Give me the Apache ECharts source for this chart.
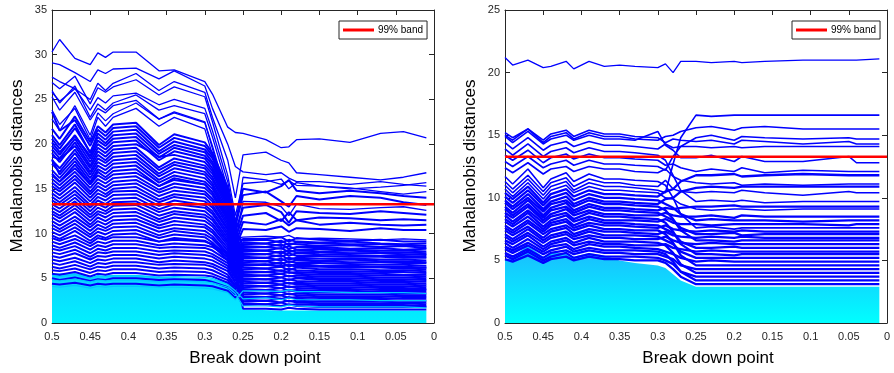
<!DOCTYPE html>
<html>
<head>
<meta charset="utf-8">
<script src="https://cdn.jsdelivr.net/npm/echarts@6/dist/echarts.min.js"></script>
<style>
html,body{margin:0;padding:0;background:#fff;}
#c{width:894px;height:373px;}
</style>
</head>
<body>
<div id="c"></div>
<script>
// ---------------- DATA ----------------
const xTicks = [0.5,0.45,0.4,0.35,0.3,0.25,0.2,0.15,0.1,0.05,0];
const band99 = 13.28;

// Left panel: break-down points at which the distances are listed
const xLeft = [0.50,0.49,0.47,0.45,0.44,0.43,0.42,0.39,0.36,0.34,0.30,0.29,0.27,0.26,
               0.25,0.22,0.20,0.19,0.18,0.15,0.11,0.07,0.04,0.01];

const leftOutliers = [
  [30.3,31.7,29.6,28.9,30.2,29.7,30.3,30.3,28.2,28.3,27.0,25.6,21.9,21.3, 21.2,20.5,19.6,19.7,20.5,20.6,20.2,21.2,21.4,20.7],
  [29.1,28.9,28.0,27.0,28.3,27.9,28.4,28.5,27.3,28.2,26.5,24.0,20.0,17.5, 16.9,16.6,16.8,16.2,15.8,15.8,15.5,15.8,15.5,15.3],
  [27.5,27.0,26.2,25.0,26.8,26.0,26.8,27.9,26.0,27.0,25.8,23.0,18.2,14.0, 18.8,19.1,18.2,17.9,16.8,16.6,16.3,16.0,16.3,16.8],
  [26.9,26.2,27.6,24.5,26.3,25.8,26.4,27.2,25.5,26.4,25.3,22.5,16.5,12.0, 15.6,15.8,16.1,15.0,15.7,15.3,15.1,14.7,14.4,14.7],
  [26.0,24.6,26.5,23.0,24.5,23.8,24.6,25.5,23.8,24.3,23.4,20.8,15.0,10.5, 16.3,16.0,15.5,15.9,15.4,15.3,15.0,15.2,15.4,15.7],
  [25.8,24.8,26.2,23.8,25.2,24.6,25.4,25.7,24.4,25.0,24.0,21.5,15.8,11.5, 6.5,6.6,6.4,6.6,6.4,6.4,6.3,6.3,6.2,6.2],
  [25.3,23.8,25.8,22.7,24.0,23.5,24.3,24.9,22.8,23.6,22.5,19.5,13.5,9.5, 9.6,9.7,9.6,9.8,9.4,9.5,9.4,9.3,9.4,9.3],
  [23.8,22.2,24.0,20.5,23.0,22.0,23.0,24.0,22.0,23.0,21.7,18.8,13.0,9.0, 13.6,13.5,13.0,12.0,13.3,12.8,12.7,12.9,13.0,12.6],
  [22.8,21.5,24.3,21.0,23.5,22.6,23.4,24.6,22.8,23.5,22.4,19.8,14.0,9.8, 8.0,8.1,7.9,8.2,7.9,7.9,7.8,7.8,7.7,7.7]
];

const leftUpperBand = [
  [21.7,20.6,23.1,20.2,22.0,21.3,22.2,22.4,19.9,21.1,20.2,19.0,15.2,11.2, 15.0,14.6,15.3,16.0,14.8,14.5,14.8,14.5,14.2,14.0],
  [23.6,21.5,22.7,19.8,21.6,20.9,21.8,22.0,19.6,20.7,19.8,18.7,15.0,11.0, 5.2,5.3,5.1,5.3,5.1,5.0,5.0,4.9,4.9,4.8],
  [21.0,19.9,22.2,19.0,21.2,20.5,21.4,21.6,19.2,20.3,19.4,18.4,14.7,10.8, 14.3,14.7,13.6,13.0,14.2,13.8,14.2,14.0,13.5,13.2],
  [20.6,19.5,21.8,19.1,20.8,20.1,21.0,21.2,18.9,19.9,19.1,18.0,14.4,10.6, 8.4,8.5,8.3,8.6,8.2,8.3,8.2,8.1,8.1,8.0],
  [20.2,19.1,20.9,18.7,20.4,19.8,20.6,20.8,18.5,19.6,18.7,17.7,14.1,10.4, 3.0,2.9,3.1,2.8,2.9,2.8,2.8,2.8,2.7,2.7],
  [19.8,18.8,21.0,18.4,20.0,19.4,20.2,20.4,18.2,19.2,18.4,17.3,13.9,10.2, 12.9,13.2,12.4,11.2,12.5,12.3,12.2,12.5,12.3,12.1],
  [19.4,18.4,20.6,18.0,19.6,19.0,19.8,20.0,18.6,18.8,18.0,17.0,13.6,10.0, 7.0,6.9,7.2,6.8,7.0,6.9,6.8,6.8,6.7,6.7],
  [19.0,18.0,20.2,17.6,19.2,18.6,19.4,19.6,17.4,18.4,17.6,16.7,13.3,9.8, 9.2,9.3,9.0,9.3,9.1,9.0,9.1,8.9,8.8,8.9],
  [18.6,18.3,19.8,17.3,18.8,18.2,19.0,19.2,17.1,18.0,17.3,16.3,13.1,9.6, 2.2,2.1,2.3,2.0,2.1,2.0,2.0,2.0,2.0,1.9],
  [18.2,17.3,19.4,16.9,18.4,17.9,18.6,18.8,16.7,17.7,16.9,16.0,12.8,9.4, 12.0,12.3,11.4,12.4,11.5,11.8,11.7,11.5,11.6,11.5],
  [17.8,16.9,19.0,16.6,18.0,17.5,18.2,18.4,16.4,17.3,16.6,15.6,12.5,9.2, 6.2,6.1,6.3,5.9,6.2,6.0,6.0,5.9,5.9,5.8],
  [18.3,16.6,18.5,16.2,17.6,17.1,17.8,18.0,16.0,16.9,16.2,15.3,12.2,9.0, 4.4,4.5,4.3,4.5,4.3,4.2,4.2,4.1,4.1,4.0],
  [17.1,16.2,18.1,15.8,17.2,16.7,17.4,17.6,15.7,16.5,15.8,15.0,12.0,8.8, 11.3,11.0,11.6,10.9,11.5,11.0,11.2,11.0,10.9,11.0],
  [16.7,15.8,17.7,15.5,16.9,16.3,17.0,17.2,15.3,16.2,15.5,14.6,11.7,8.6, 8.8,8.9,8.6,8.9,8.8,8.6,8.7,8.5,8.6,8.4]
];

const leftMiddleBand = [
  [16.5,15.8,17.3,15.5,16.5,16.0,16.6,16.8,15.3,16.0,15.5,14.6,11.8,8.7, 3.6,3.7,3.5,3.7,3.5,3.4,3.4,3.4,3.3,3.3],
  [16.1,15.4,16.9,15.1,16.1,15.6,16.2,16.4,14.9,15.6,15.1,14.3,11.5,8.5, 10.5,10.4,10.8,10.2,10.6,10.5,10.3,10.6,10.4,10.4],
  [15.7,15.0,16.5,14.7,15.7,15.2,15.8,16.0,14.6,15.2,14.7,13.9,11.2,8.3, 9.4,9.4,9.6,9.1,9.5,9.3,9.2,9.3,9.1,9.1],
  [15.3,14.7,16.1,14.4,15.3,14.8,15.4,15.6,14.2,14.8,14.4,13.6,10.9,8.1, 6.8,6.9,6.6,6.9,6.7,6.7,6.6,6.5,6.5,6.4],
  [14.9,14.3,15.7,14.0,14.9,14.4,15.0,15.2,13.8,14.4,14.0,13.2,10.6,7.9, 2.6,2.5,2.7,2.4,2.5,2.4,2.4,2.4,2.3,2.3],
  [14.5,13.9,15.2,13.6,14.5,14.1,14.7,14.8,13.5,14.1,13.6,12.9,10.4,7.7, 8.2,8.1,8.4,7.9,8.2,8.0,8.1,7.9,7.9,7.8],
  [14.1,13.5,14.8,13.2,14.1,13.7,14.3,14.4,13.1,13.7,13.2,12.5,10.1,7.5, 5.6,5.7,5.5,5.7,5.5,5.4,5.4,5.3,5.3,5.2],
  [13.7,13.2,14.4,12.9,13.7,13.3,13.9,14.0,12.7,13.3,12.9,12.2,9.8,7.3, 4.0,4.1,3.9,4.1,3.9,3.8,3.8,3.7,3.7,3.7],
  [13.3,12.8,14.0,12.5,13.3,12.9,13.5,13.6,12.4,12.9,12.5,11.8,9.5,7.1, 7.6,7.7,7.4,7.8,7.5,7.5,7.4,7.4,7.3,7.3],
  [12.9,12.4,13.6,12.1,12.9,12.5,13.1,13.2,12.0,12.5,12.1,11.5,9.2,6.9, 9.0,8.9,9.2,8.7,9.0,8.9,8.8,8.8,8.7,8.6],
  [12.5,12.0,13.2,11.8,12.5,12.2,12.7,12.8,11.6,12.2,11.8,11.1,9.0,6.7, 3.2,3.3,3.1,3.3,3.1,3.0,3.0,3.0,2.9,2.9],
  [12.2,11.7,12.8,11.4,12.2,11.8,12.3,12.4,11.3,11.8,11.4,10.8,8.7,6.4, 6.4,6.5,6.3,6.5,6.3,6.3,6.2,6.2,6.1,6.0],
  [11.8,11.3,12.4,11.0,11.8,11.4,11.9,12.0,10.9,11.4,11.0,10.4,8.4,6.2, 1.6,1.6,1.5,1.7,1.6,1.5,1.5,1.5,1.5,1.5],
  [11.4,10.9,11.9,10.7,11.4,11.0,11.5,11.6,10.6,11.0,10.7,10.1,8.1,6.0, 8.6,8.5,8.8,8.3,8.5,8.5,8.3,8.4,8.2,8.3],
  [11.0,10.5,11.5,10.3,11.0,10.6,11.1,11.2,10.2,10.6,10.3,9.7,7.8,5.8, 5.0,4.9,5.1,4.8,5.0,4.8,4.8,4.7,4.7,4.6],
  [10.6,10.2,11.1,9.9,10.6,10.3,10.7,10.8,9.8,10.3,9.9,9.4,7.6,5.6, 7.2,7.3,7.0,7.3,7.1,7.0,7.1,6.9,6.9,6.8],
  [10.2,9.8,10.7,9.6,10.2,9.9,10.3,10.4,9.5,9.9,9.6,9.0,7.3,5.4, 4.6,4.5,4.7,4.4,4.5,4.4,4.4,4.3,4.3,4.2],
  [9.8,9.4,10.3,9.2,9.8,9.5,9.9,10.0,9.1,9.5,9.2,8.7,7.0,5.2, 2.8,2.9,2.7,2.9,2.7,2.6,2.6,2.6,2.5,2.5]
];

const leftLowerBand = [
  [9.5,9.2,9.8,8.9,9.5,9.3,9.6,9.6,9.1,9.3,9.1,8.8,7.7,6.0, 8.0,8.1,7.8,8.1,7.9,7.9,7.8,7.8,7.7,7.6],
  [9.1,8.8,9.4,8.6,9.1,8.9,9.2,9.2,8.7,8.9,8.7,8.5,7.4,5.7, 6.6,6.5,6.8,6.3,6.6,6.4,6.4,6.3,6.3,6.2],
  [8.7,8.4,9.0,8.2,8.7,8.5,8.8,8.8,8.4,8.5,8.4,8.1,7.0,5.5, 7.8,7.7,8.0,7.5,7.8,7.7,7.6,7.5,7.5,7.4],
  [8.3,8.1,8.6,7.8,8.3,8.1,8.4,8.4,8.0,8.1,8.0,7.7,6.7,5.2, 4.2,4.1,4.3,4.0,4.1,4.0,4.0,3.9,3.9,3.8],
  [7.9,7.7,8.2,7.4,7.9,7.8,8.0,8.0,7.6,7.8,7.6,7.4,6.4,5.0, 7.4,7.3,7.6,7.1,7.3,7.2,7.2,7.1,7.1,7.0],
  [7.5,7.3,7.8,7.1,7.5,7.4,7.6,7.6,7.2,7.4,7.2,7.0,6.1,4.7, 5.4,5.3,5.5,5.2,5.3,5.2,5.2,5.1,5.1,5.0],
  [7.1,6.9,7.3,6.7,7.1,7.0,7.2,7.2,6.8,7.0,6.8,6.6,5.8,4.5, 2.4,2.5,2.3,2.5,2.3,2.2,2.2,2.2,2.2,2.1],
  [6.7,6.5,6.9,6.3,6.7,6.6,6.8,6.8,6.5,6.6,6.5,6.3,5.4,4.2, 6.0,6.1,5.8,6.1,5.9,5.8,5.8,5.7,5.7,5.6],
  [6.3,6.1,6.5,6.0,6.3,6.2,6.4,6.4,6.1,6.2,6.1,5.9,5.1,4.0, 3.4,3.3,3.5,3.2,3.3,3.2,3.2,3.2,3.1,3.1],
  [5.9,5.8,6.1,5.6,5.9,5.8,6.0,6.0,5.7,5.8,5.7,5.5,4.8,3.7, 5.8,5.7,5.9,5.6,5.7,5.6,5.6,5.5,5.4,5.4],
  [5.5,5.4,5.7,5.2,5.5,5.4,5.6,5.6,5.3,5.4,5.3,5.2,4.5,3.5, 2.0,2.1,1.9,2.1,1.9,1.8,1.8,1.8,1.8,1.8],
  [5.0,4.8,5.1,4.7,4.9,4.8,5.0,5.0,4.8,4.9,4.8,4.6,4.0,3.2, 4.8,4.9,4.7,4.9,4.7,4.6,4.6,4.5,4.5,4.4],
  [4.4,4.3,4.5,4.2,4.4,4.3,4.4,4.4,4.2,4.3,4.2,4.1,3.6,2.8, 3.8,3.7,3.9,3.6,3.7,3.6,3.6,3.5,3.5,3.5]
];

// lighter trajectories that sit among the lowest blue ones
const leftCyanLines = [
  [5.3,5.2,5.4,5.0,5.3,5.2,5.3,5.3,5.1,5.2,5.1,5.0,4.3,3.6, 2.7,2.8,2.6,2.8,2.6,2.6,2.6,2.5,2.5,2.5],
  [4.8,4.7,4.9,4.6,4.8,4.7,4.8,4.8,4.6,4.7,4.6,4.5,4.0,3.3, 1.9,1.9,1.8,2.0,1.9,1.8,1.8,1.8,1.8,1.7],
  [4.1,4.0,4.2,3.9,4.1,4.0,4.1,4.1,4.0,4.0,3.9,3.8,3.4,2.6, 3.6,3.6,3.5,3.7,3.5,3.5,3.4,3.4,3.4,3.3]
];

// envelope of the densely packed (cyan) trajectories, left panel
const xLeftCyan = [0.50,0.47,0.45,0.42,0.39,0.36,0.30,0.28,0.27,0.26,0.25,0.20,0.01];
const leftCyanTop = [5.5,5.6,5.2,5.4,5.4,5.2,5.0,4.8,4.6,4.3,1.5,1.4,1.4];

// Right panel
const xRight = [0.50,0.49,0.47,0.45,0.44,0.42,0.41,0.39,0.37,0.35,0.33,0.30,
                0.29,0.28,0.27,
                0.25,0.23,0.20,0.19,0.16,0.11,0.05,0.04,0.01];

const rightOutlier = [
  [21.2,20.6,21.0,20.4,20.5,20.9,20.3,20.9,20.5,20.6,20.5,20.4, 20.7,20.0,20.9, 20.9,20.8,20.9,20.8,20.9,21.0,21.0,21.0,21.1]
];

const rightUpperBand = [
  [15.2,14.8,15.5,14.6,15.1,15.4,14.9,15.4,15.1,15.1,14.9,14.8, 14.4,14.7,14.6, 14.5,14.6,14.3,14.6,14.5,14.3,14.5,14.3,14.3],
  [15.0,14.6,15.5,14.4,14.9,15.2,14.7,15.2,14.9,14.9,14.7,14.6, 14.9,15.0,15.3, 15.6,15.7,15.4,15.6,15.7,15.5,15.5,15.5,15.5],
  [14.9,14.4,15.3,14.3,14.7,15.0,14.6,15.0,14.7,14.7,14.6,15.3, 14.2,13.8,13.2, 13.2,13.4,12.9,13.3,12.9,12.9,13.3,12.8,12.8],
  [14.4,13.9,14.8,13.8,14.2,14.5,14.1,14.5,14.2,14.2,14.1,13.9, 14.3,14.0,14.1, 14.1,14.0,14.1,14.0,14.1,14.1,14.1,14.1,14.1],
  [13.9,13.4,14.3,13.3,13.7,14.0,13.6,14.0,13.7,13.7,13.6,13.4, 13.0,11.8,10.6, 9.7,9.8,9.7,9.8,9.6,9.7,9.7,9.7,9.7],
  [13.4,13.0,13.8,12.8,13.2,13.5,13.1,13.5,13.2,13.2,13.1,13.0, 12.6,12.7,12.4, 12.1,12.3,12.1,12.4,12.0,12.2,12.1,12.1,12.1],
  [12.9,12.5,13.3,12.4,12.7,13.0,12.6,13.0,12.7,12.7,12.6,12.5, 12.2,13.3,14.1, 14.8,15.0,14.6,14.9,14.8,14.7,14.8,14.7,14.7],
  [12.4,12.0,12.8,11.9,12.3,12.5,12.1,12.5,12.3,12.3,12.1,12.0, 12.3,11.7,11.4, 11.2,11.1,11.2,11.0,11.1,11.0,11.1,11.1,11.1],
  [11.7,11.1,12.3,10.8,11.5,12.0,11.3,11.9,11.5,11.5,11.4,11.3, 11.0,10.0,8.7, 7.6,7.7,7.5,7.6,7.6,7.6,7.6,7.6,7.6],
  [11.3,10.7,11.8,10.5,11.2,11.6,10.9,11.5,11.2,11.2,11.0,10.9, 11.4,10.7,10.5, 10.4,10.5,10.4,10.6,10.4,10.2,10.5,10.4,10.4],
  [11.0,10.4,11.5,10.2,10.9,11.3,10.6,11.2,10.9,10.9,10.8,10.6, 10.4,12.7,14.8, 16.6,16.5,16.6,16.6,16.6,16.6,16.6,16.6,16.6],
  [10.7,10.1,11.2,9.9,10.6,11.0,10.4,10.9,10.6,10.6,10.5,10.4, 10.0,9.9,9.5, 9.1,9.0,9.1,9.1,9.0,9.1,9.1,9.1,9.1]
];

const rightDenseBand = [
  [10.4,9.9,10.9,9.6,10.3,10.7,10.1,10.6,10.3,10.3,10.2,10.1, 10.5,10.7,11.3, 11.8,11.8,11.9,11.7,11.8,11.9,11.8,11.8,11.8],
  [10.1,9.6,10.6,9.4,10.0,10.4,9.8,10.3,10.0,10.0,9.9,9.8, 9.5,9.2,8.7, 8.2,8.3,8.2,8.2,8.2,8.1,8.2,8.2,8.2],
  [9.8,9.3,10.3,9.1,9.7,10.1,9.5,10.0,9.7,9.7,9.6,9.5, 9.9,10.0,10.5, 10.8,10.9,10.8,10.9,10.9,10.9,10.9,10.9,10.9],
  [9.6,9.1,10.0,8.9,9.5,9.8,9.3,9.8,9.5,9.5,9.4,9.3, 9.0,8.3,7.4, 6.6,6.6,6.5,6.6,6.6,6.6,6.6,6.6,6.6],
  [9.3,8.8,9.8,8.6,9.2,9.6,9.0,9.5,9.2,9.2,9.1,9.0, 9.2,9.1,9.2, 9.3,9.3,9.4,9.3,9.3,9.3,9.3,9.3,9.3],
  [9.1,8.6,9.5,8.4,9.0,9.3,8.8,9.3,9.0,9.0,8.9,8.8, 8.5,8.2,7.6, 7.1,7.1,7.2,7.0,7.1,7.1,7.1,7.1,7.1],
  [8.8,8.4,9.3,8.2,8.7,9.1,8.6,9.0,8.7,8.7,8.6,8.6, 8.8,8.6,8.5, 8.5,8.6,8.4,8.6,8.5,8.5,8.5,8.5,8.5],
  [8.6,8.1,9.0,8.0,8.5,8.8,8.3,8.8,8.5,8.5,8.4,8.3, 8.0,7.3,6.3, 5.5,5.5,5.4,5.5,5.5,5.5,5.5,5.5,5.5],
  [8.3,7.9,8.8,7.7,8.2,8.6,8.1,8.5,8.2,8.2,8.2,8.1, 8.3,8.0,7.9, 7.9,7.8,7.9,7.9,7.9,7.9,7.8,7.9,7.9],
  [8.1,7.7,8.5,7.5,8.0,8.3,7.8,8.3,8.0,8.0,7.9,7.8, 7.5,7.2,6.5, 6.0,6.0,6.1,6.0,6.0,6.0,6.0,6.0,6.0],
  [7.8,7.4,8.2,7.3,7.8,8.1,7.6,8.0,7.8,7.8,7.7,7.6, 7.8,7.5,7.4, 7.3,7.4,7.3,7.4,7.3,7.3,7.3,7.3,7.3],
  [7.6,7.2,8.0,7.1,7.5,7.8,7.4,7.8,7.5,7.5,7.4,7.4, 7.1,6.4,5.4, 4.6,4.6,4.6,4.6,4.6,4.6,4.6,4.6,4.6],
  [7.4,7.0,7.7,6.8,7.3,7.6,7.1,7.5,7.3,7.3,7.2,7.1, 7.3,7.0,6.9, 6.8,6.9,6.8,6.9,6.8,6.8,6.8,6.8,6.8],
  [7.1,6.7,7.5,6.6,7.0,7.3,6.9,7.3,7.0,7.0,7.0,6.9, 6.6,6.3,5.7, 5.2,5.2,5.2,5.2,5.2,5.2,5.2,5.2,5.2],
  [6.9,6.5,7.2,6.4,6.8,7.1,6.7,7.0,6.8,6.8,6.7,6.7, 6.9,6.6,6.4, 6.3,6.4,6.3,6.3,6.3,6.3,6.3,6.3,6.3],
  [6.6,6.3,7.0,6.1,6.5,6.8,6.4,6.8,6.5,6.5,6.5,6.4, 6.2,5.6,4.7, 4.0,4.0,4.0,4.0,4.0,4.0,4.0,4.0,4.0],
  [6.4,6.0,6.7,5.9,6.3,6.6,6.2,6.5,6.3,6.3,6.2,6.2, 6.3,6.0,5.9, 5.7,5.8,5.7,5.7,5.7,5.7,5.7,5.7,5.7],
  [6.1,5.8,6.4,5.7,6.1,6.3,5.9,6.3,6.1,6.1,6.0,5.9, 5.7,5.5,5.2, 4.9,5.0,4.9,4.9,4.9,4.9,4.9,4.9,4.9],
  [5.9,5.6,6.2,5.5,5.8,6.1,5.7,6.0,5.8,5.8,5.8,5.7, 5.5,4.9,4.1, 3.4,3.4,3.4,3.4,3.4,3.4,3.4,3.4,3.4],
  [5.6,5.3,5.9,5.2,5.6,5.8,5.5,5.8,5.6,5.6,5.5,5.5, 5.3,5.1,4.6, 4.3,4.3,4.3,4.3,4.3,4.3,4.3,4.3,4.3],
  [5.4,5.1,5.7,5.0,5.3,5.6,5.2,5.5,5.3,5.3,5.3,5.2, 5.0,4.7,4.1, 3.7,3.7,3.7,3.7,3.7,3.7,3.7,3.7,3.7],
  [5.1,4.9,5.4,4.8,5.1,5.3,5.0,5.3,5.1,5.1,5.0,5.0, 4.8,4.3,3.7, 3.1,3.1,3.1,3.1,3.1,3.1,3.1,3.1,3.1]
];

const xRightCyan = [0.50,0.49,0.47,0.45,0.44,0.42,0.41,0.39,0.37,0.35,0.33,0.30,0.29,0.28,0.27,0.25,0.01];
const rightCyanTop = [5.0,5.3,6.2,5.3,5.6,5.6,5.3,5.6,5.4,5.0,4.8,4.6,4.4,3.9,3.4,2.9,2.9];

// ---------------- CHART ----------------
const FONT = "'Liberation Sans', Arial, Helvetica, sans-serif";
const AX = '#262626';
const BLUE = '#0000ff';

function fmt(v){ return String(+v.toFixed(2)); }

function xAx(grid, top){
  return {type:'value', gridIndex:grid, position: top?'top':'bottom', min:0, max:0.5, interval:0.05, inverse:true,
    axisLine:{show:true, onZero:false, lineStyle:{color:AX, width:1}},
    axisTick:{show:true, inside:true, length:5, lineStyle:{color:AX, width:1}},
    axisLabel:{show:!top, color:AX, fontSize:11, fontFamily:FONT, margin:8, formatter:fmt},
    splitLine:{show:false}};
}
function yAx(grid, right, max){
  return {type:'value', gridIndex:grid, position: right?'right':'left', min:0, max:max, interval:5,
    axisLine:{show:true, onZero:false, lineStyle:{color:AX, width:1}},
    axisTick:{show:true, inside:true, length:5, lineStyle:{color:AX, width:1}},
    axisLabel:{show:!right, color:AX, fontSize:11, fontFamily:FONT, margin:5},
    splitLine:{show:false}};
}

const series = [];
function addLines(xs, arr, axis, width, color){
  arr.forEach(vals => {
    series.push({type:'line', xAxisIndex:axis, yAxisIndex:axis, symbol:'none', silent:true,
      data: xs.map((x,i)=>[x, vals[i]]), lineStyle:{color:color||BLUE, width:width}, z:3});
  });
}
function addCyan(xs, vals, axis, c1, c2){
  series.push({type:'line', xAxisIndex:axis, yAxisIndex:axis, symbol:'none', silent:true,
    data: xs.map((x,i)=>[x, vals[i]]), lineStyle:{width:0, color:c1},
    areaStyle:{opacity:1, color:{type:'linear', x:0, y:0, x2:0, y2:1, colorStops:[{offset:0,color:c1},{offset:1,color:c2}]}}, z:2});
}
function addBand(axis){
  series.push({type:'line', name:'99% band', xAxisIndex:axis, yAxisIndex:axis, symbol:'none', silent:true,
    data:[[0.5,band99],[0,band99]], lineStyle:{color:'#ff0000', width:2.5}, itemStyle:{color:'#ff0000'}, z:6});
}

addCyan(xLeftCyan, leftCyanTop, 0, '#0fd2ff', '#00f0ff');
addLines(xLeft, leftLowerBand, 0, 2.0);
addLines(xLeft, leftMiddleBand, 0, 2.0);
addLines(xLeft, leftUpperBand, 0, 2.0);
addLines(xLeft, leftOutliers, 0, 1.3);
addLines(xLeft, leftCyanLines, 0, 1.2, '#00c8ff');
addBand(0);

addCyan(xRightCyan, rightCyanTop, 2, '#1cb8ff', '#00ffff');
addLines(xRight, rightDenseBand, 2, 2.3);
addLines(xRight, rightUpperBand, 2, 1.6);
addLines(xRight, rightOutlier, 2, 1.3);
addBand(2);

const legendCommon = {data:['99% band'], icon:'rect', itemWidth:31, itemHeight:3, itemGap:4,
  padding:[4,4,4,4], borderColor:AX, borderWidth:1, backgroundColor:'#fff', borderRadius:0,
  textStyle:{fontSize:10, fontFamily:FONT, color:'#000', padding:[0,0,0,-1]}, selectedMode:false, z:10};

const option = {
  animation:false,
  backgroundColor:'#fff',
  grid:[
    {left:52, top:10, width:382, height:313, show:false},
    {left:505, top:10, width:382, height:313, show:false}
  ],
  xAxis:[xAx(0,false), xAx(0,true), xAx(1,false), xAx(1,true)],
  yAxis:[yAx(0,false,35), yAx(0,true,35), yAx(1,false,25), yAx(1,true,25)],
  legend:[
    Object.assign({left:339, top:21}, legendCommon),
    Object.assign({left:792, top:21}, legendCommon)
  ],
  graphic:[
    {type:'text', x:17, y:166, rotation:Math.PI/2, style:{text:'Mahalanobis distances', fontSize:17, fontFamily:FONT, fill:'#000', align:'center', verticalAlign:'middle'}},
    {type:'text', x:470, y:166, rotation:Math.PI/2, style:{text:'Mahalanobis distances', fontSize:17, fontFamily:FONT, fill:'#000', align:'center', verticalAlign:'middle'}},
    {type:'text', x:255, y:358, style:{text:'Break down point', fontSize:17, fontFamily:FONT, fill:'#000', align:'center', verticalAlign:'middle'}},
    {type:'text', x:708, y:358, style:{text:'Break down point', fontSize:17, fontFamily:FONT, fill:'#000', align:'center', verticalAlign:'middle'}}
  ],
  series: series
};

const chart = echarts.init(document.getElementById('c'), null, {renderer:'canvas'});
chart.setOption(option);
</script>
</body>
</html>
